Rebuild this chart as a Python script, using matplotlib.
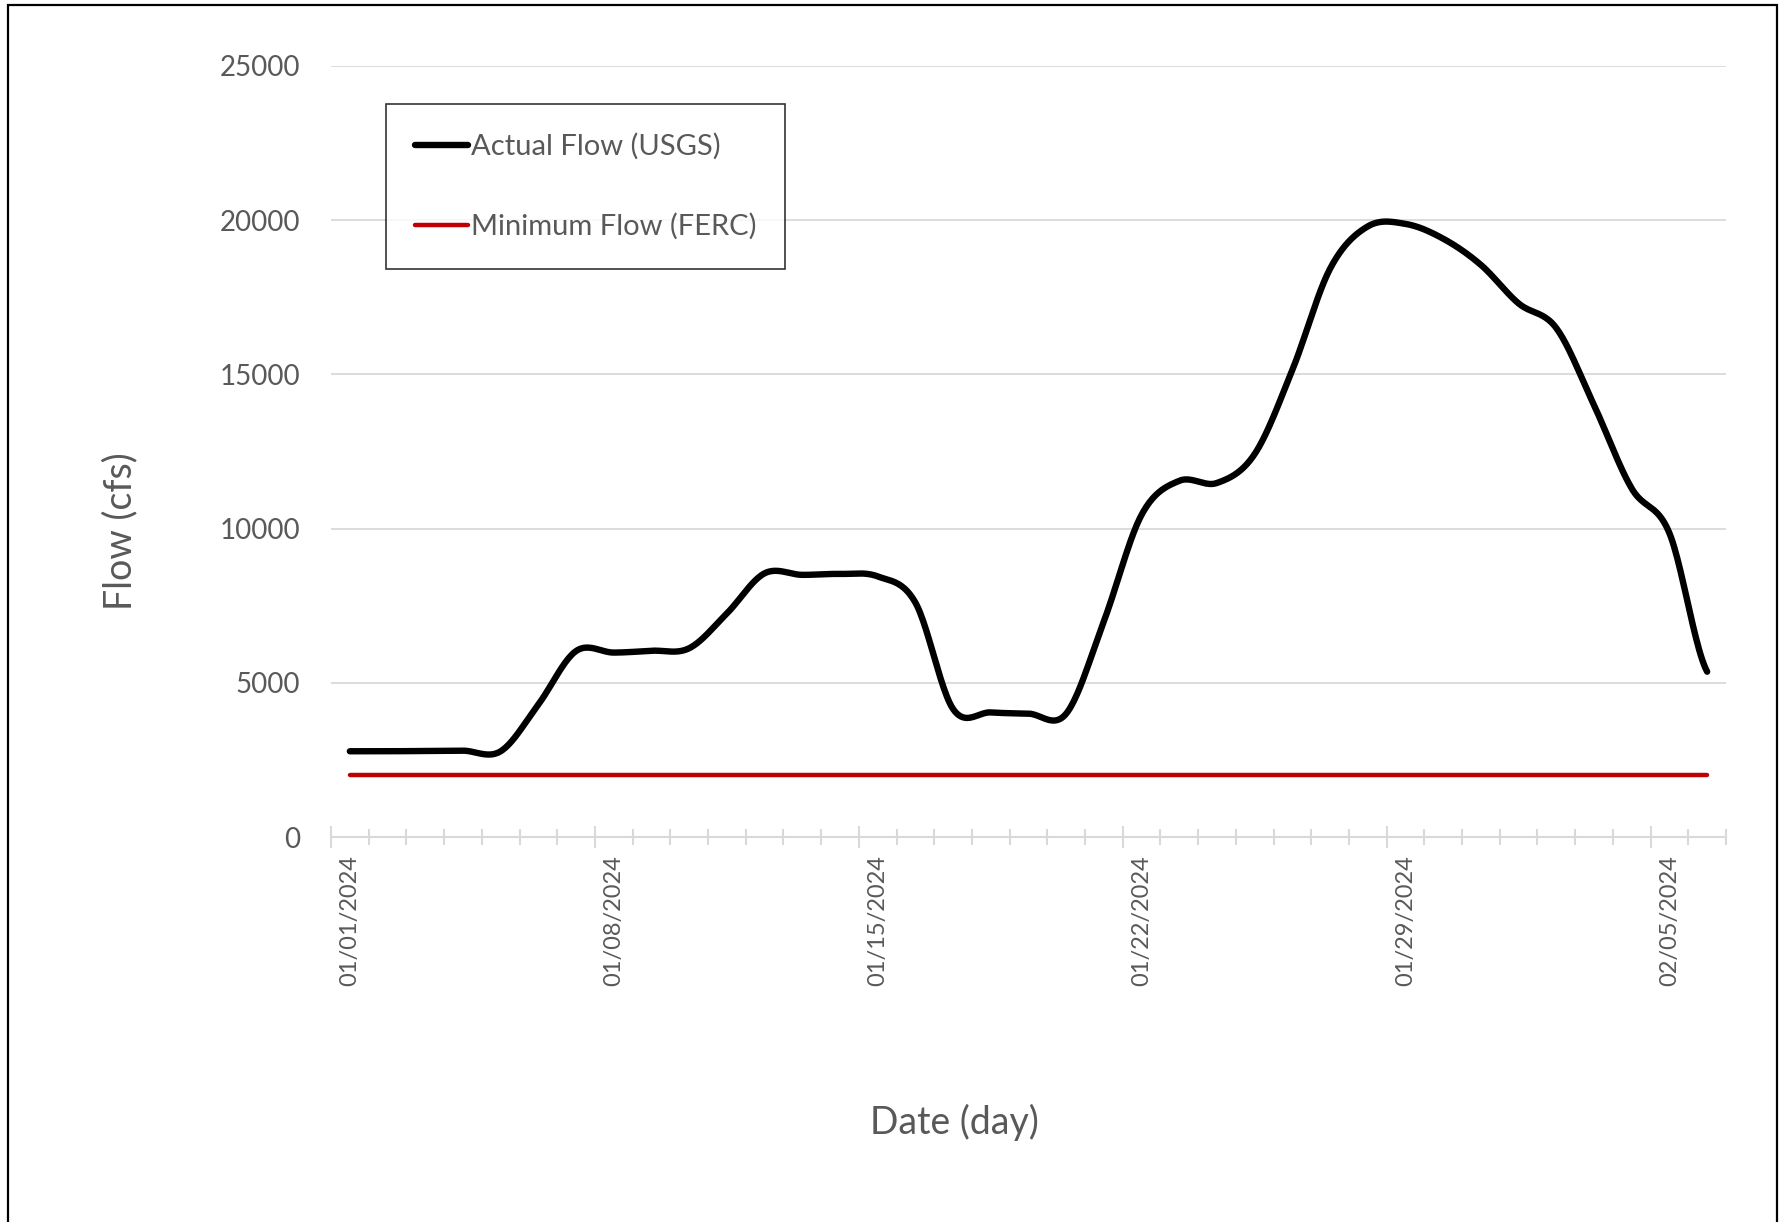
import numpy as np
import pandas as pd
import matplotlib
matplotlib.use('Agg')
import matplotlib.pyplot as plt
from matplotlib.patches import Rectangle

plt.rcParams['font.family'] = ['Lato', 'DejaVu Sans']

# --- data ---
dates = pd.date_range('2024-01-01', '2024-02-06', freq='D')
actual_flow = [2780, 2780, 2790, 2800, 2780, 4300, 6030, 5980, 6040, 6120,
               7250, 8550, 8500, 8530, 8450, 7600, 4150, 4040, 4000, 4000,
               7000, 10450, 11550, 11480, 12420, 15150, 18430, 19800, 19880, 19400,
               18550, 17300, 16500, 14000, 11300, 9850, 5360]
minimum_flow = [2000, 2000, 2000, 2000, 2000, 2000, 2000, 2000, 2000, 2000,
                2000, 2000, 2000, 2000, 2000, 2000, 2000, 2000, 2000, 2000,
                2000, 2000, 2000, 2000, 2000, 2000, 2000, 2000, 2000, 2000,
                2000, 2000, 2000, 2000, 2000, 2000, 2000]
y_ticks = [0, 5000, 10000, 15000, 20000, 25000]

GRAY_TEXT = '#595959'
GRID = '#D9D9D9'


def smooth(y, steps=24):
    # Excel-style smoothed line: cardinal (Catmull-Rom) spline through the points
    y = np.asarray(y, dtype=float)
    m = np.empty_like(y)
    m[1:-1] = (y[2:] - y[:-2]) / 2
    m[0] = (y[1] - y[0]) / 2
    m[-1] = (y[-1] - y[-2]) / 2
    t = np.linspace(0, 1, steps, endpoint=False)
    h00 = 2 * t**3 - 3 * t**2 + 1
    h01 = -2 * t**3 + 3 * t**2
    h10 = t**3 - 2 * t**2 + t
    h11 = t**3 - t**2
    xs, ys = [], []
    for i in range(len(y) - 1):
        xs.append(i + t)
        ys.append(h00 * y[i] + h01 * y[i + 1] + h10 * m[i] + h11 * m[i + 1])
    xs.append([len(y) - 1])
    ys.append([y[-1]])
    return np.concatenate(xs), np.concatenate(ys)


fig = plt.figure(figsize=(17.9, 12.22), dpi=100)
ax = fig.add_axes([331 / 1790, 1 - 837 / 1222, 1395 / 1790, 771 / 1222])

x = np.arange(len(dates))
sx, sy = smooth(actual_flow)
ax.plot(sx, sy, color='black', lw=4.6, solid_capstyle='round', label='Actual Flow (USGS)', zorder=3)
ax.plot(x, minimum_flow, color='#C00000', lw=3.2, solid_capstyle='round', label='Minimum Flow (FERC)', zorder=2)

ax.set_xlim(-0.5, len(dates) - 0.5)
ax.set_ylim(0, 25000)
ax.set_yticks(y_ticks)
ax.set_yticklabels([str(v) for v in y_ticks])
ax.tick_params(axis='y', length=0, pad=22, labelsize=20, labelcolor=GRAY_TEXT)
ax.grid(axis='y', color=GRID, lw=1.3)
ax.set_axisbelow(True)

label_idx = list(range(0, len(dates), 7))
ax.set_xticks(label_idx)
ax.set_xticklabels([dates[i].strftime('%m/%d/%Y') for i in label_idx], rotation=90)
ax.tick_params(axis='x', length=0, pad=13, labelsize=17, labelcolor=GRAY_TEXT)

for s in ['top', 'right', 'left']:
    ax.spines[s].set_visible(False)
ax.spines['bottom'].set_color(GRID)
ax.spines['bottom'].set_linewidth(1.5)

# boundary tick marks between day categories
sec = ax.secondary_xaxis('bottom')
sec.set_xticks(np.arange(-0.5, len(dates), 7))
sec.set_xticks(np.arange(-0.5, len(dates) + 0.5, 1), minor=True)
sec.set_xticklabels([])
sec.tick_params(which='major', direction='inout', length=16, width=1.5, color=GRID)
sec.tick_params(which='minor', direction='inout', length=12, width=1.5, color=GRID)
sec.spines['bottom'].set_visible(False)

leg = ax.legend(loc='upper left', bbox_to_anchor=(0.0394, 0.9507), borderaxespad=0,
                fontsize=21, handlelength=1.8, handletextpad=0.1, labelspacing=1.82,
                borderpad=1.0, frameon=True, fancybox=False, edgecolor='black')
leg.get_frame().set_linewidth(1.2)
for t in leg.get_texts():
    t.set_color(GRAY_TEXT)

fig.text(120 / 1790, 1 - 531 / 1222, 'Flow (cfs)', rotation=90, ha='center', va='center',
         fontsize=27, color=GRAY_TEXT)
fig.text(954 / 1790, 1 - 1122 / 1222, 'Date (day)', ha='center', va='center',
         fontsize=27, color=GRAY_TEXT)

# chart frame (bottom edge falls outside the image)
fig.add_artist(Rectangle((8 / 1790, -0.2), (1777 - 8) / 1790, 1.2 - 5 / 1222,
                         transform=fig.transFigure, fill=False, edgecolor='black', lw=1.6))

fig.savefig('out.png', dpi=100, facecolor='white')
